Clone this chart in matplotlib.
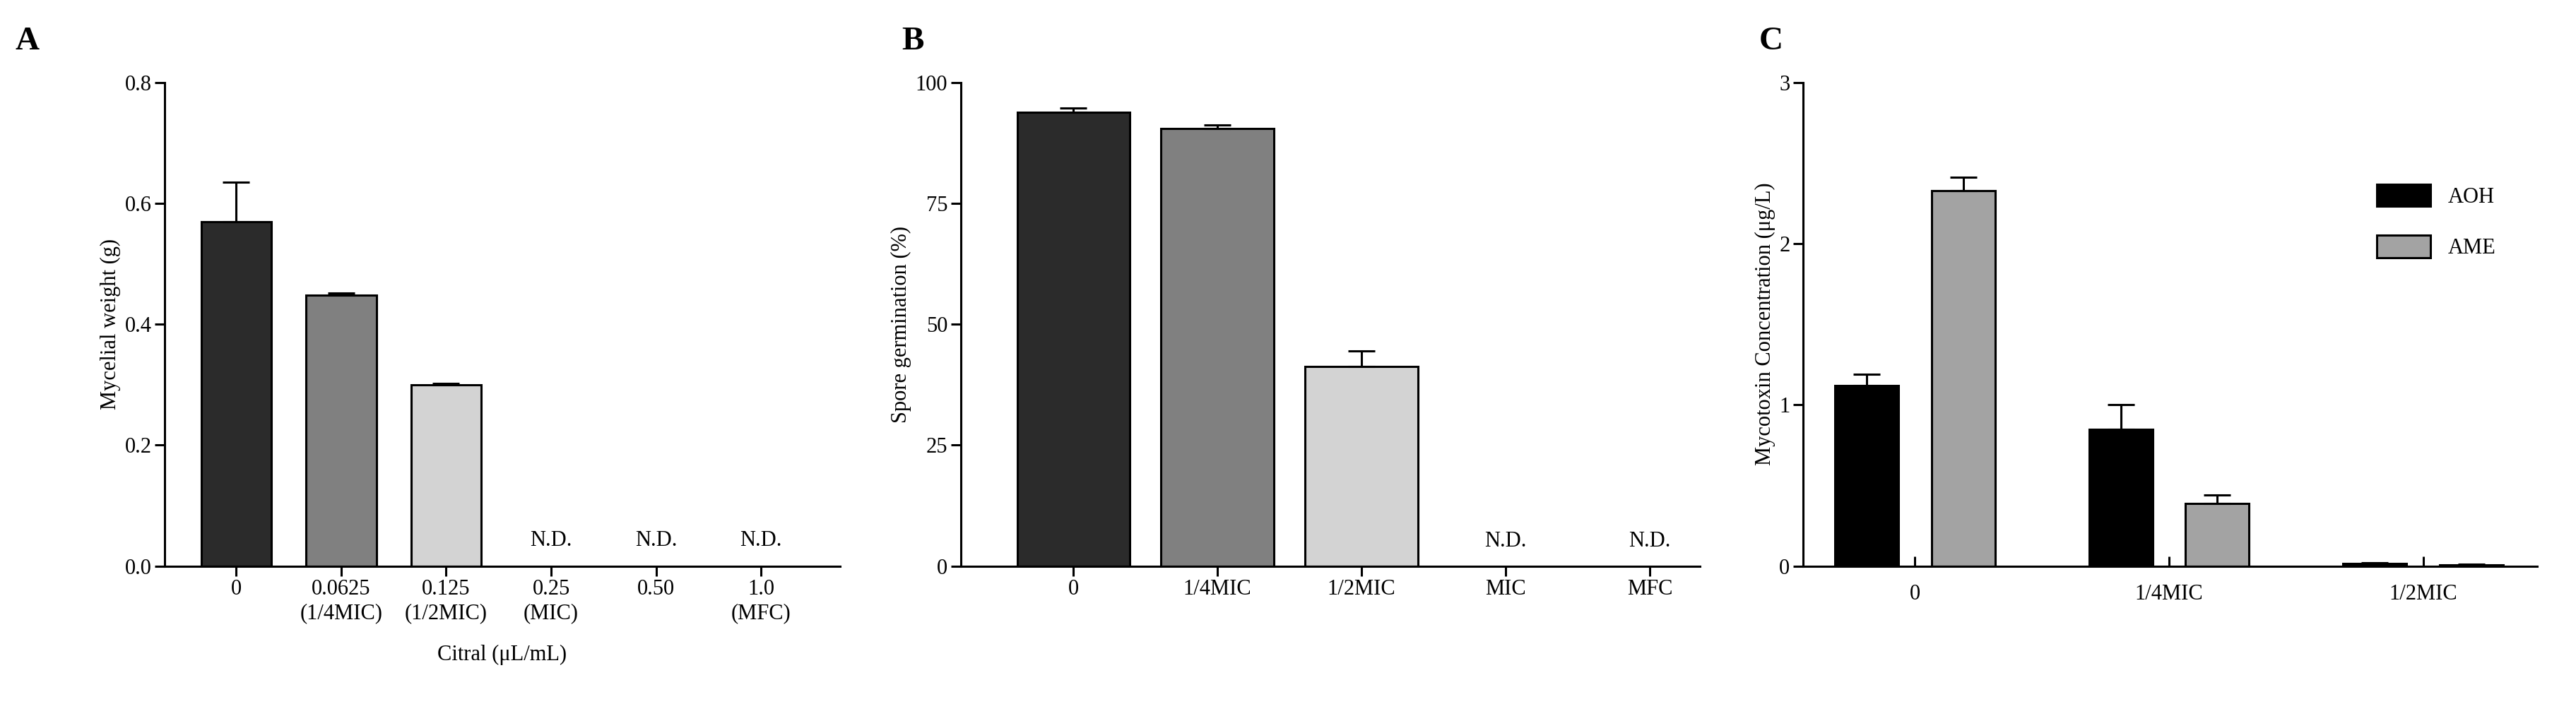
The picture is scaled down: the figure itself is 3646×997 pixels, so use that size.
import matplotlib
matplotlib.use('Agg')
import matplotlib.pyplot as plt
import numpy as np

plt.rcParams['font.family'] = ['Liberation Serif', 'DejaVu Serif']
plt.rcParams['font.size'] = 20

# Panel A
a_labels = ['0', '0.0625\n(1/4MIC)', '0.125\n(1/2MIC)', '0.25\n(MIC)', '0.50', '1.0\n(MFC)']
a_vals = [0.57, 0.448, 0.30]
a_err = [0.065, 0.004, 0.002]
a_cols = ['#2b2b2b', '#808080', '#d3d3d3']
# Panel B
b_labels = ['0', '1/4MIC', '1/2MIC', 'MIC', 'MFC']
b_vals = [93.8, 90.4, 41.3]
b_err = [0.9, 0.8, 3.2]
# Panel C
c_groups = ['0', '1/4MIC', '1/2MIC']
aoh = [1.12, 0.85, 0.015]
aoh_err = [0.07, 0.15, 0.004]
ame = [2.33, 0.39, 0.008]
ame_err = [0.08, 0.05, 0.003]

fig = plt.figure(figsize=(36.46, 9.97), dpi=100)

def style(ax):
    for s in ['top', 'right']:
        ax.spines[s].set_visible(False)
    for s in ['left', 'bottom']:
        ax.spines[s].set_linewidth(2.2)
    ax.tick_params(width=2.2, length=10, labelsize=22)

# A
axA = fig.add_axes([0.064, 0.196, 0.262, 0.687])
xa = np.arange(3)
axA.bar(xa, a_vals, 0.67, color=a_cols, edgecolor='black', linewidth=2.2,
        yerr=[np.zeros(3), a_err], capsize=14, error_kw=dict(elinewidth=2.2, capthick=2.2))
for i in range(3, 6):
    axA.text(i, 0.025, 'N.D.', ha='center', va='bottom', fontsize=22)
axA.set_xticks(np.arange(6))
axA.set_xticklabels(a_labels)
axA.set_xlim(-0.68, 5.75)
axA.set_ylim(0, 0.8)
axA.set_yticks([0, 0.2, 0.4, 0.6, 0.8])
axA.set_yticklabels(['0.0', '0.2', '0.4', '0.6', '0.8'])
axA.set_ylabel('Mycelial weight (g)', fontsize=22)
axA.set_xlabel('Citral (μL/mL)', fontsize=22, labelpad=22)
style(axA)
fig.text(0.006, 0.93, 'A', fontsize=34, fontweight='bold')

# B
axB = fig.add_axes([0.373, 0.196, 0.287, 0.687])
xb = np.arange(3)
axB.bar(xb, b_vals, 0.78, color=a_cols, edgecolor='black', linewidth=2.2,
        yerr=[np.zeros(3), b_err], capsize=14, error_kw=dict(elinewidth=2.2, capthick=2.2))
for i in range(3, 5):
    axB.text(i, 3, 'N.D.', ha='center', va='bottom', fontsize=22)
axB.set_xticks(np.arange(5))
axB.set_xticklabels(b_labels)
axB.set_xlim(-0.78, 4.35)
axB.set_ylim(0, 100)
axB.set_yticks([0, 25, 50, 75, 100])
axB.set_ylabel('Spore germination (%)', fontsize=22)
style(axB)
fig.text(0.35, 0.93, 'B', fontsize=34, fontweight='bold')

# C
axC = fig.add_axes([0.700, 0.196, 0.285, 0.687])
xc = np.arange(3)
axC.bar(xc - 0.19, aoh, 0.25, color='black', edgecolor='black', linewidth=2.2, label='AOH',
        yerr=[np.zeros(3), aoh_err], capsize=14, error_kw=dict(elinewidth=2.2, capthick=2.2))
axC.bar(xc + 0.19, ame, 0.25, color='#a3a3a3', edgecolor='black', linewidth=2.2, label='AME',
        yerr=[np.zeros(3), ame_err], capsize=14, error_kw=dict(elinewidth=2.2, capthick=2.2))
axC.set_xticks(xc)
axC.set_xticklabels(c_groups)
axC.set_xlim(-0.44, 2.45)
axC.set_ylim(0, 3)
axC.set_yticks([0, 1, 2, 3])
axC.set_ylabel('Mycotoxin Concentration (μg/L)', fontsize=22)
style(axC)
axC.tick_params(axis='x', direction='in', pad=18)
axC.legend(loc='upper right', bbox_to_anchor=(0.97, 0.83), frameon=False, fontsize=22,
           handlelength=2.5, handleheight=1.2, labelspacing=1.3)
fig.text(0.683, 0.93, 'C', fontsize=34, fontweight='bold')

fig.savefig('out.png', dpi=100)
